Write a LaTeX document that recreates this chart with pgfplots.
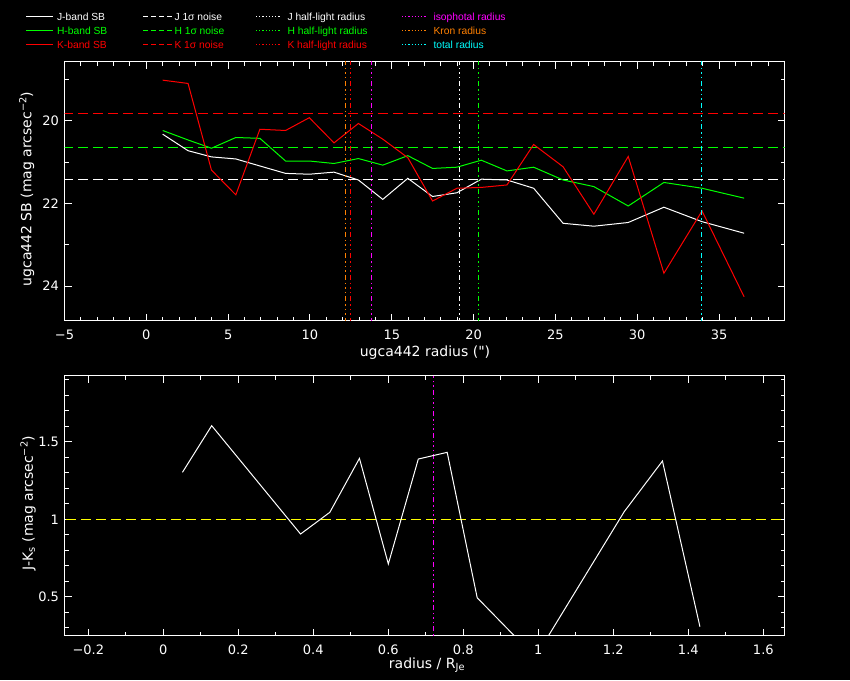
\documentclass[border=0pt]{standalone}
\usepackage{fontspec}
\setmainfont{DejaVu Sans}
\newfontfamily\qfont{DejaVu Sans}
\newfontfamily\legfont{Liberation Sans}
\usepackage{pgfplots}
\usepackage{pgfplotstable}
\pgfplotsset{compat=1.18}
\definecolor{pgred}{RGB}{255,0,0}
\definecolor{pggreen}{RGB}{0,255,0}
\definecolor{pgorange}{RGB}{255,128,0}
\definecolor{pgmagenta}{RGB}{255,0,255}
\definecolor{pgcyan}{RGB}{0,255,255}
\definecolor{pgyellow}{RGB}{255,255,0}

\pgfplotstableread{
x     J     H     K
1.00  20.32 20.23 19.01
2.55  20.72 20.46 19.09
3.98  20.87 20.66 21.19
5.47  20.92 20.40 21.79
6.94  21.09 20.42 20.20
8.51  21.27 20.97 20.23
9.96  21.29 20.97 19.92
11.47 21.24 21.03 20.53
12.96 21.43 20.91 20.06
14.45 21.90 21.07 20.44
15.98 21.39 20.84 20.89
17.49 21.83 21.15 21.94
18.98 21.74 21.12 21.63
20.47 21.41 20.95 21.61
22.04 21.43 21.21 21.55
23.67 21.63 21.12 20.57
25.47 22.48 21.43 21.11
27.35 22.55 21.59 22.26
29.45 22.46 22.06 20.86
31.63 22.09 21.49 23.69
33.96 22.44 21.63 22.18
36.53 22.72 21.87 24.26
}\sbtable

\pgfplotstableread{
r      JK
0.051  1.303
0.129  1.604
0.366  0.905
0.444  1.045
0.523  1.393
0.600  0.712
0.680  1.389
0.757  1.432
0.837  0.494
0.992  0.110
1.229  1.049
1.331  1.376
1.431  0.307
}\coltable

\tikzset{
  ddd/.style={line width=1pt, dash pattern=on 5pt off 3pt on 1.5pt off 3pt on 1.5pt off 3pt on 1.5pt off 3pt},
  ndash/.style={line width=1pt, dash pattern=on 10pt off 5pt},
}
\pgfplotsset{
  pgstyle/.style={
    scale only axis,
    axis line style={white, line width=1pt},
    every tick/.style={white, line width=1pt},
    major tick length=7pt,
    minor tick length=4pt,
    tick align=inside,
    ticklabel style={text=white, font=\fontsize{13}{15}\selectfont},
    xticklabel style={yshift=-6pt},
    yticklabel style={xshift=-2pt},
    every axis plot/.append style={line width=1pt},
    axis background/.style={fill=black},
  }
}

\begin{document}
\begin{tikzpicture}[x=1pt,y=1pt]
\fill[black] (0,0) rectangle (850,-680);

% legend
\begin{scope}[line width=1pt, font=\legfont\fontsize{10.3}{12}\selectfont]
\draw[white] (26,-16.5) -- (52.7,-16.5);
\node[anchor=base west, inner sep=0, text=white] at (56.5,-20.7) {J-band SB};
\draw[pggreen] (26,-30.5) -- (52.7,-30.5);
\node[anchor=base west, inner sep=0, text=pggreen] at (56.5,-34.7) {H-band SB};
\draw[pgred] (26,-44.5) -- (52.7,-44.5);
\node[anchor=base west, inner sep=0, text=pgred] at (56.5,-48.3) {K-band SB};

\draw[white, dash pattern=on 5pt off 3pt] (143,-16.5) -- (172,-16.5);
\node[anchor=base west, inner sep=0, text=white] at (174,-20.7) {J 1σ noise};
\draw[pggreen, dash pattern=on 5pt off 3pt] (143,-30.5) -- (172,-30.5);
\node[anchor=base west, inner sep=0, text=pggreen] at (174,-34.7) {H 1σ noise};
\draw[pgred, dash pattern=on 5pt off 3pt] (143,-44.5) -- (172,-44.5);
\node[anchor=base west, inner sep=0, text=pgred] at (174,-48.3) {K 1σ noise};

\draw[white, dash pattern=on 1.2pt off 2pt] (256,-16.5) -- (280,-16.5);
\node[anchor=base west, inner sep=0, text=white] at (287,-20.7) {J half-light radius};
\draw[pggreen, dash pattern=on 1.2pt off 2pt] (256,-30.5) -- (280,-30.5);
\node[anchor=base west, inner sep=0, text=pggreen] at (287,-34.7) {H half-light radius};
\draw[pgred, dash pattern=on 1.2pt off 2pt] (256,-44.5) -- (280,-44.5);
\node[anchor=base west, inner sep=0, text=pgred] at (287,-48.3) {K half-light radius};

\draw[pgmagenta, dash pattern=on 1.2pt off 2pt] (402,-16.5) -- (426,-16.5);
\node[anchor=base west, inner sep=0, text=pgmagenta] at (433,-20.7) {isophotal radius};
\draw[pgorange, dash pattern=on 1.2pt off 2pt] (402,-30.5) -- (426,-30.5);
\node[anchor=base west, inner sep=0, text=pgorange] at (433,-34.7) {Kron radius};
\draw[pgcyan, dash pattern=on 1.2pt off 2pt] (402,-44.5) -- (426,-44.5);
\node[anchor=base west, inner sep=0, text=pgcyan] at (433,-48.3) {total radius};
\end{scope}

% top axis
\begin{axis}[pgstyle,
  at={(64.5pt,-320.5pt)}, anchor=south west,
  width=720pt, height=259pt,
  xmin=-5, xmax=39, ymin=18.558, ymax=24.836, y dir=reverse,
  xtick={-5,0,5,10,15,20,25,30,35},
  xticklabels={−5,0,5,10,15,20,25,30,35},
  minor xtick={-5,-4,...,39},
  ytick={20,22,24}, yticklabels={20,22,24},
  minor ytick={19,21,23},
]
\addplot[color=white, ndash] coordinates {(-6,21.418) (40,21.418)};
\addplot[color=pggreen, ndash] coordinates {(-6,20.643) (40,20.643)};
\addplot[color=pgred, ndash] coordinates {(-6,19.818) (40,19.818)};
\addplot[color=white] table[x=x,y=J] {\sbtable};
\addplot[color=pggreen] table[x=x,y=H] {\sbtable};
\addplot[color=pgred] table[x=x,y=K] {\sbtable};
\addplot[color=pgorange, ddd] coordinates {(12.172,18) (12.172,25)};
\addplot[color=pgred, ddd] coordinates {(12.478,18) (12.478,25)};
\addplot[color=pgmagenta, ddd] coordinates {(13.761,18) (13.761,25)};
\addplot[color=white, ddd] coordinates {(19.139,18) (19.139,25)};
\addplot[color=pggreen, ddd] coordinates {(20.300,18) (20.300,25)};
\addplot[color=pgcyan, ddd] coordinates {(33.928,18) (33.928,25)};
\end{axis}

% bottom axis
\begin{axis}[pgstyle,
  at={(64.5pt,-635.5pt)}, anchor=south west,
  width=720pt, height=260pt,
  xmin=-0.2635, xmax=1.6565, ymin=0.2503, ymax=1.9277,
  xtick={-0.2,0,0.2,0.4,0.6,0.8,1,1.2,1.4,1.6},
  xticklabels={−0.2,0,0.2,0.4,0.6,0.8,1,1.2,1.4,1.6},
  minor xtick={-0.1,0.1,0.3,0.5,0.7,0.9,1.1,1.3,1.5},
  ytick={0.5,1,1.5}, yticklabels={0.5,1,1.5},
  minor ytick={0.3,0.4,0.6,0.7,0.8,0.9,1.1,1.2,1.3,1.4,1.6,1.7,1.8,1.9},
]
\addplot[color=pgyellow, ndash] coordinates {(-0.3,0.9987) (1.7,0.9987)};
\addplot[color=pgmagenta, ddd] coordinates {(0.7205,0) (0.7205,2)};
\addplot[color=white] table[x=r,y=JK] {\coltable};
\end{axis}

% axis labels
\begin{scope}[font=\fontsize{14}{16}\selectfont]
\node[text=white] at (425,-353) {ugca442 radius ({\qfont "})};
\node[text=white, rotate=90] at (26.7,-189) {ugca442 SB (mag arcsec\textsuperscript{−2})};
\node[text=white] at (427,-665) {radius / R\textsubscript{Je}};
\node[text=white, rotate=90] at (28,-503) {J-K\textsubscript{s} (mag arcsec\textsuperscript{−2})};
\end{scope}
\end{tikzpicture}
\end{document}
